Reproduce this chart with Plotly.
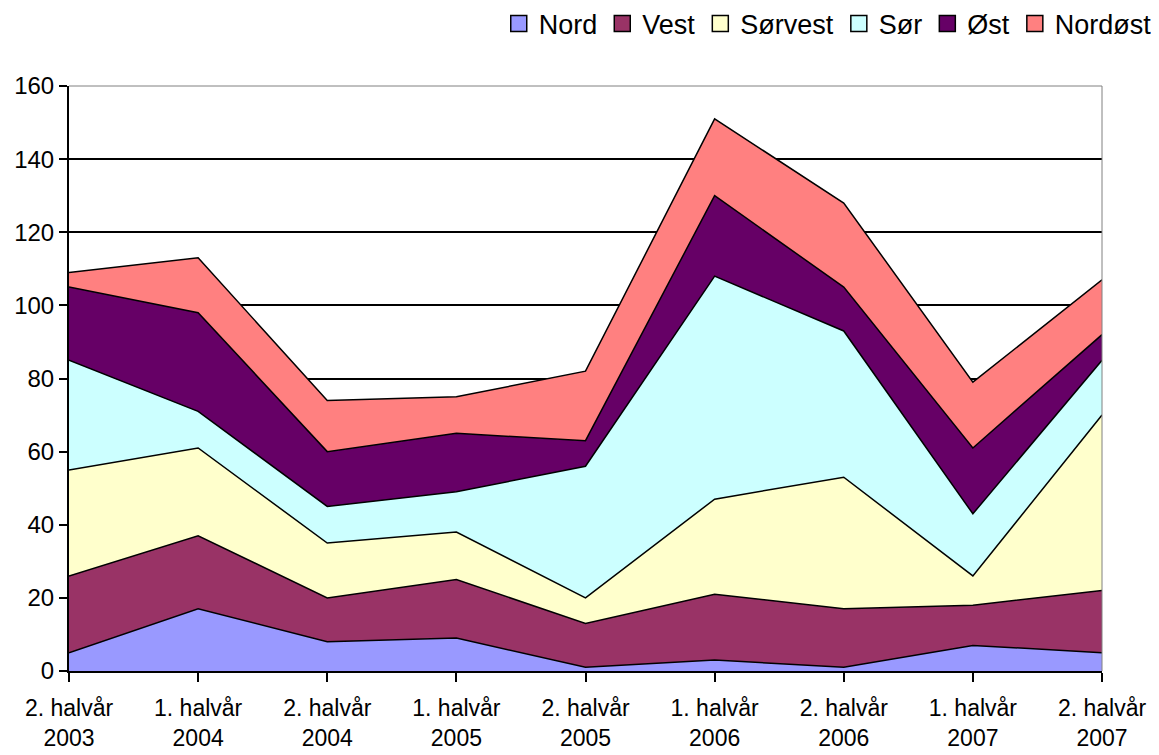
import plotly.graph_objects as go

categories = ["2. halvår<br>2003", "1. halvår<br>2004", "2. halvår<br>2004", "1. halvår<br>2005",
              "2. halvår<br>2005", "1. halvår<br>2006", "2. halvår<br>2006", "1. halvår<br>2007",
              "2. halvår<br>2007"]
nord = [5, 17, 8, 9, 1, 3, 1, 7, 5]
vest = [21, 20, 12, 16, 12, 18, 16, 11, 17]
sorvest = [29, 24, 15, 13, 7, 26, 36, 8, 48]
sor = [30, 10, 10, 11, 36, 61, 40, 17, 15]
ost = [20, 27, 15, 16, 7, 22, 12, 18, 7]
nordost = [4, 15, 14, 10, 19, 21, 23, 18, 15]

series = [("Nord", nord, "#9999FF"), ("Vest", vest, "#993366"), ("Sørvest", sorvest, "#FFFFCC"),
          ("Sør", sor, "#CCFFFF"), ("Øst", ost, "#660066"), ("Nordøst", nordost, "#FF8080")]

fig = go.Figure()
for name, vals, col in series:
    fig.add_trace(go.Scatter(x=categories, y=vals, name=name, mode="lines",
                             stackgroup="one", fillcolor=col, showlegend=False,
                             line=dict(color="black", width=1.5)))
# legend entries with square swatches
for name, vals, col in series:
    fig.add_trace(go.Scatter(x=[categories[0]], y=[None], name=name, mode="markers",
                             marker=dict(symbol="square", size=17, color=col,
                                         line=dict(color="black", width=1.5)),
                             showlegend=True, hoverinfo="skip"))

fig.update_layout(
    width=1151, height=747,
    margin=dict(l=61, r=57, t=78, b=84, autoexpand=False),
    paper_bgcolor="white", plot_bgcolor="white",
    font=dict(family="Arial, Liberation Sans", size=24, color="black"),
    legend=dict(orientation="h", x=1.053, xanchor="right", y=1.106, yanchor="middle",
                font=dict(size=27), traceorder="normal", itemwidth=30,
                tracegroupgap=0, bgcolor="rgba(0,0,0,0)"),
    showlegend=True,
)
fig.update_xaxes(type="category", range=[0, 8], showline=True, linecolor="black", linewidth=2,
                 ticks="outside", ticklen=9, tickwidth=2, tickcolor="black", showgrid=False,
                 tickfont=dict(size=23), ticklabelstandoff=6)
fig.update_yaxes(range=[0, 160], dtick=20, showline=True, linecolor="black", linewidth=2,
                 ticks="outside", ticklen=8, tickwidth=2, tickcolor="black",
                 showgrid=True, gridcolor="black", gridwidth=2, zeroline=False,
                 tickfont=dict(size=24))
fig.add_shape(type="line", xref="paper", yref="paper", x0=0, x1=1, y0=1, y1=1,
              line=dict(color="#808080", width=1))
fig.add_shape(type="line", xref="paper", yref="paper", x0=1, x1=1, y0=0, y1=1,
              line=dict(color="#808080", width=1))

fig.write_html("out.html")
